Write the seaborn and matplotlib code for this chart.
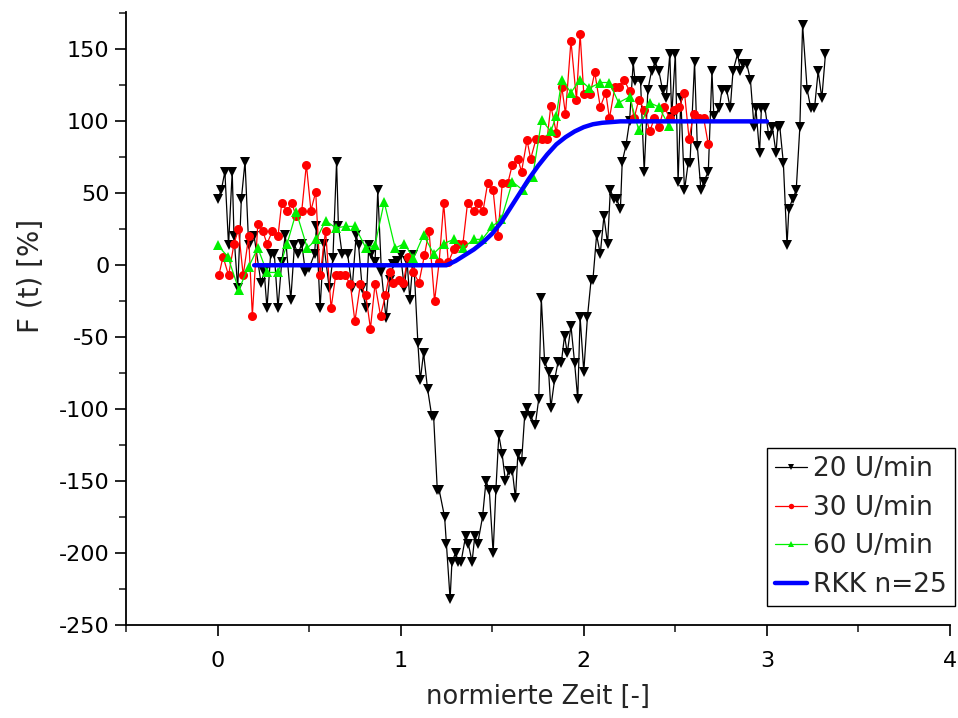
import matplotlib
matplotlib.use('Agg')
import matplotlib.pyplot as plt
import seaborn as sns
from matplotlib.ticker import MultipleLocator

# ---------------- data ----------------
black_x = [0.00, 0.02, 0.04, 0.06, 0.08, 0.09, 0.11, 0.13, 0.15, 0.17,
           0.20, 0.237, 0.255, 0.27, 0.29, 0.31, 0.33, 0.35, 0.37, 0.40,
           0.42, 0.44, 0.46, 0.48, 0.50, 0.53, 0.54, 0.56, 0.58, 0.61,
           0.63, 0.65, 0.66, 0.68, 0.71, 0.735, 0.757, 0.77, 0.79, 0.81,
           0.826, 0.84, 0.86, 0.875, 0.895, 0.92, 0.94, 0.96, 0.98, 1.00,
           1.02, 1.035, 1.05, 1.07, 1.094, 1.107, 1.125, 1.147, 1.17, 1.18,
           1.20, 1.21, 1.24, 1.25, 1.27, 1.28, 1.30, 1.315, 1.33, 1.355,
           1.37, 1.39, 1.405, 1.42, 1.447, 1.466, 1.484, 1.505, 1.52, 1.536,
           1.554, 1.572, 1.59, 1.61, 1.627, 1.64, 1.66, 1.677, 1.69, 1.71,
           1.735, 1.754, 1.768, 1.786, 1.808, 1.82, 1.84, 1.86, 1.877, 1.895,
           1.91, 1.93, 1.95, 1.967, 1.98, 2.00, 2.02, 2.04, 2.05, 2.07,
           2.09, 2.11, 2.13, 2.145, 2.167, 2.18, 2.20, 2.21, 2.23, 2.25,
           2.27, 2.28, 2.31, 2.33, 2.35, 2.37, 2.39, 2.41, 2.43, 2.45,
           2.47, 2.48, 2.50, 2.515, 2.53, 2.55, 2.57, 2.58, 2.605, 2.62,
           2.64, 2.655, 2.68, 2.70, 2.71, 2.74, 2.755, 2.78, 2.80, 2.815,
           2.84, 2.855, 2.87, 2.89, 2.91, 2.93, 2.94, 2.96, 2.97, 2.99,
           3.01, 3.03, 3.05, 3.06, 3.07, 3.09, 3.11, 3.12, 3.14, 3.16,
           3.18, 3.195, 3.22, 3.24, 3.26, 3.28, 3.30, 3.32]
black_y = [46, 52, 65, 14, 65, 20, -16, 46, 72, 14,
           20, -12, -5, -30, 8, 8, -30, 2, 21, -24,
           14, 8, 15, -5, -2, 8, 27, -30, 15, -16,
           5, 72, 27, 8, 8, -16, 21, 14, -16, -30,
           14, 8, 2, 52, -5, -37, -10, 1, 3, 7,
           -16, 3, -24, 7, -54, -80, -61, -86, -105, -105,
           -156, -156, -175, -194, -232, -206, -200, -206, -206, -188,
           -194, -206, -188, -194, -175, -150, -156, -200, -156, -118,
           -131, -150, -143, -143, -162, -131, -137, -105, -99, -105,
           -111, -93, -23, -67, -74, -99, -80, -67, -68, -49,
           -61, -42, -68, -93, -36, -74, -36, -10, -10, 21,
           8, 34, 15, 52, 46, 46, 39, 72, 83, 100,
           141, 128, 128, 65, 122, 135, 141, 135, 122, 116,
           147, 103, 147, 58, 116, 52, 71, 71, 141, 83,
           52, 58, 65, 135, 104, 109, 122, 122, 109, 135,
           147, 135, 140, 140, 129, 96, 109, 78, 109, 109,
           90, 96, 78, 96, 97, 71, 14, 39, 46, 52,
           96, 167, 122, 109, 109, 135, 116, 147]

red_x = [0.007, 0.03, 0.06, 0.09, 0.114, 0.14, 0.17, 0.19, 0.22, 0.246,
         0.27, 0.30, 0.33, 0.35, 0.38, 0.405, 0.43, 0.46, 0.485, 0.51,
         0.536, 0.56, 0.59, 0.62, 0.645, 0.67, 0.695, 0.725, 0.75, 0.78,
         0.81, 0.835, 0.86, 0.89, 0.917, 0.94, 0.96, 0.99, 1.015, 1.04,
         1.07, 1.10, 1.13, 1.155, 1.185, 1.21, 1.235, 1.26, 1.29, 1.315,
         1.34, 1.365, 1.40, 1.42, 1.45, 1.475, 1.505, 1.53, 1.555, 1.585,
         1.61, 1.64, 1.66, 1.69, 1.71, 1.74, 1.77, 1.80, 1.82, 1.85,
         1.88, 1.90, 1.93, 1.96, 1.98, 2.00, 2.035, 2.06, 2.09, 2.12,
         2.14, 2.17, 2.19, 2.22, 2.25, 2.275, 2.30, 2.33, 2.36, 2.385,
         2.41, 2.44, 2.47, 2.495, 2.52, 2.55, 2.575, 2.60, 2.63, 2.655,
         2.68]
red_y = [-7, 6, -7, 15, 25, -7, 20, -35, 29, 24,
         15, 24, 20, 43, 38, 43, 34, 38, 70, 38,
         51, -7, 24, -30, -7, -7, -7, -13, -39, -13,
         -21, -44, -13, -35, -21, -5, -12, -10, -12, 6,
         -5, -12, 7, 24, -25, 2, 43, 2, 11, 15,
         15, 43, 38, 43, 38, 57, 52, 20, 57, 57,
         70, 74, 65, 87, 74, 88, 88, 88, 111, 92,
         124, 105, 156, 115, 161, 119, 119, 134, 110, 120,
         102, 124, 124, 129, 121, 102, 115, 108, 93, 102,
         96, 110, 102, 108, 110, 120, 88, 105, 102, 102,
         84]

green_x = [0.00, 0.056, 0.116, 0.17, 0.22, 0.27, 0.33, 0.38, 0.43, 0.49,
           0.54, 0.59, 0.645, 0.70, 0.75, 0.81, 0.86, 0.91, 0.97, 1.02,
           1.07, 1.125, 1.18, 1.235, 1.29, 1.34, 1.40, 1.445, 1.50, 1.55,
           1.61, 1.67, 1.72, 1.77, 1.82, 1.85, 1.88, 1.93, 1.98, 2.03,
           2.09, 2.14, 2.19, 2.25, 2.30, 2.36, 2.41, 2.465]
green_y = [14, 6, -17, -1, 12, -5, -5, 15, 37, 12,
           18, 31, 26, 27, 27, 12, 14, 44, 12, 15,
           5, 21, 8, 15, 18, 12, 18, 18, 27, 32,
           58, 52, 61, 101, 93, 104, 129, 120, 129, 123,
           127, 127, 113, 117, 94, 113, 110, 97]

rkk_x = [0.20, 1.25, 1.30, 1.35, 1.40, 1.45, 1.50, 1.55, 1.60, 1.65,
         1.70, 1.75, 1.80, 1.85, 1.90, 1.95, 2.00, 2.05, 2.10, 2.20, 3.00]
rkk_y = [0, 0, 3, 7, 11, 16, 22, 30, 40, 50,
         60, 69, 77, 84, 89, 93, 96, 98, 99, 100, 100]

labels = ['20 U/min', '30 U/min', '60 U/min', 'RKK n=25']
x_ticks = [0, 1, 2, 3, 4]
y_ticks = [-250, -200, -150, -100, -50, 0, 50, 100, 150]

# ---------------- plot ----------------
sns.set_style('ticks')
plt.rcParams['font.family'] = ['DejaVu Sans']
plt.rcParams['axes.unicode_minus'] = False

fig, ax = plt.subplots(figsize=(9.58, 7.18), dpi=100)
fig.subplots_adjust(left=126/958, right=950/958, bottom=1-625/718, top=1-12/718)

common = dict(ax=ax, sort=False, estimator=None, linewidth=0.9)
sns.lineplot(x=black_x, y=black_y, color='black', marker='v', markersize=7.5,
             markeredgewidth=0, label=labels[0], **common)
sns.lineplot(x=red_x, y=red_y, color='#ff0000', marker='o', markersize=6.5,
             markeredgewidth=0, label=labels[1], **common)
sns.lineplot(x=green_x, y=green_y, color='#00f000', marker='^', markersize=7,
             markeredgewidth=0, label=labels[2], **common)
sns.lineplot(x=rkk_x, y=rkk_y, color='#0000ff', ax=ax, sort=False, estimator=None,
             linewidth=3.2, label=labels[3])

ax.set_xlim(-0.5, 4)
ax.set_ylim(-250, 176)
ax.set_xticks(x_ticks)
ax.set_yticks(y_ticks)
ax.xaxis.set_minor_locator(MultipleLocator(0.5))
ax.yaxis.set_minor_locator(MultipleLocator(25))
ax.tick_params(which='major', direction='out', length=8, width=1.2, labelsize=16,
               colors='black')
ax.tick_params(which='minor', direction='out', length=5, width=1.2)
ax.tick_params(axis='x', which='major', pad=11)
ax.tick_params(axis='y', which='major', pad=4)
for s in ['left', 'bottom']:
    ax.spines[s].set_linewidth(1.3)
    ax.spines[s].set_color('black')
sns.despine(ax=ax)

ax.set_xlabel('normierte Zeit [-]', fontsize=18.5, labelpad=9)
ax.set_ylabel('F (t) [%]', fontsize=20)
ax.yaxis.set_label_coords(-0.098, 0.57)

leg = ax.legend(loc='lower right', bbox_to_anchor=(1.006, 0.031), borderaxespad=0,
                fontsize=19, frameon=True, fancybox=False, framealpha=1,
                edgecolor='black', handlelength=1.2, handletextpad=0.25,
                labelspacing=0.48, markerscale=0.6, borderpad=0.3)
leg.get_frame().set_linewidth(1.0)

fig.savefig('out.png', dpi=100)
